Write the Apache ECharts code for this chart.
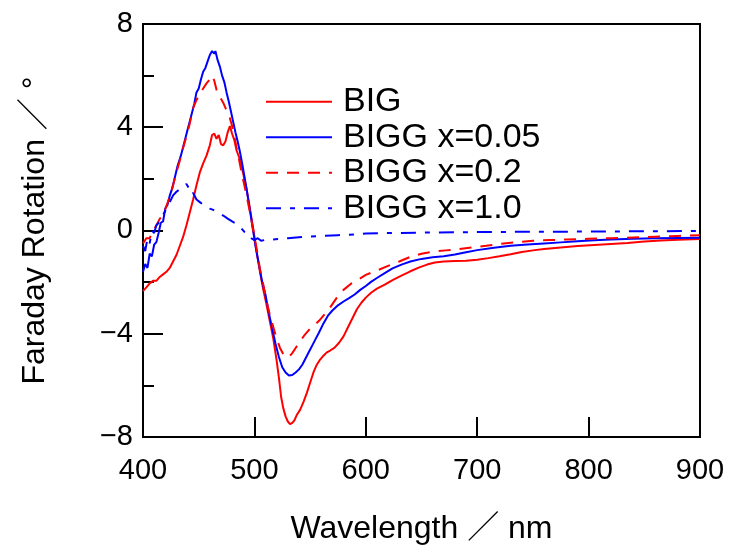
<!DOCTYPE html>
<html>
<head>
<meta charset="utf-8">
<script src="https://cdn.jsdelivr.net/npm/echarts@6/dist/echarts.min.js"></script>
<style>html,body{margin:0;padding:0;background:#fff}#c{width:730px;height:550px}</style>
</head>
<body>
<div id="c"></div>
<script>
// Wavelength (nm) and Faraday rotation (deg)
var wlBIG = [400,403,406,409,412,415,418,421,424,427,430,433,436,439,442,445,448,451,454,457,460,462,464,466,468,470,472,474,476,478,480,482,484,487,490,493,496,499,502,505,508,511,514,517,520,522,524,526,528,530,532,534,536,538,541,544,547,550,553,556,559,562,565,568,572,576,580,584,588,592,596,600,605,610,617,624,632,640,648,655,662,670,680,690,700,710,720,730,740,750,760,775,790,805,820,835,850,865,880,900];
var frBIG = [-2.35,-2.2,-2.05,-1.95,-1.95,-1.8,-1.7,-1.6,-1.45,-1.2,-0.95,-0.6,-0.25,0.2,0.7,1.2,1.75,2.25,2.6,2.9,3.3,3.7,3.75,3.55,3.7,3.35,3.3,3.45,3.8,4.05,3.75,3.5,3.1,2.75,2.2,1.6,0.85,0.05,-0.85,-1.6,-2.3,-2.9,-3.55,-4.2,-5.05,-5.7,-6.45,-6.9,-7.2,-7.4,-7.5,-7.45,-7.35,-7.15,-6.95,-6.65,-6.3,-5.9,-5.5,-5.2,-5.0,-4.85,-4.72,-4.65,-4.54,-4.35,-4.1,-3.75,-3.4,-3.05,-2.8,-2.6,-2.4,-2.25,-2.1,-1.92,-1.75,-1.58,-1.43,-1.32,-1.24,-1.2,-1.18,-1.17,-1.13,-1.07,-1.0,-0.92,-0.83,-0.77,-0.72,-0.66,-0.6,-0.56,-0.52,-0.48,-0.43,-0.39,-0.36,-0.33];

var wlX005 = [400,402,404,406,408,410,412,414,416,418,420,422,424,426,428,431,434,437,440,443,446,448,450,452,454,456,458,460,462,464,465,467,469,471,473,475,477,479,481,483,485,487,489,491,493,495,497,499,501,504,507,510,513,516,519,522,525,528,531,534,537,540,543,546,549,552,555,558,562,566,570,575,580,585,590,595,600,605,610,617,624,632,640,650,660,670,680,690,700,715,730,745,760,775,790,805,820,840,860,880,900];
var frX005 = [-1.6,-1.3,-1.45,-0.9,-1.0,-0.55,-0.45,-0.1,0.3,0.35,0.85,1.0,1.35,1.6,1.95,2.5,2.9,3.4,3.9,4.4,4.9,5.35,5.5,5.85,6.15,6.3,6.55,6.8,6.95,6.85,6.95,6.6,6.35,6.0,5.75,5.35,5.0,4.6,4.2,3.8,3.45,3.05,2.6,2.1,1.6,1.05,0.5,-0.05,-0.6,-1.3,-2.0,-2.5,-3.2,-3.8,-4.4,-4.9,-5.3,-5.5,-5.62,-5.6,-5.5,-5.38,-5.2,-4.95,-4.7,-4.45,-4.2,-3.95,-3.6,-3.3,-3.1,-2.9,-2.75,-2.62,-2.48,-2.3,-2.15,-1.98,-1.84,-1.65,-1.47,-1.32,-1.2,-1.1,-1.04,-1.0,-0.93,-0.84,-0.76,-0.67,-0.59,-0.54,-0.5,-0.46,-0.42,-0.38,-0.35,-0.32,-0.3,-0.29,-0.28];

var wlX02 = [400,403,406,409,412,415,418,421,424,427,430,433,436,439,442,445,448,451,454,457,460,462,464,466,468,470,472,474,476,478,480,482,484,486,488,490,493,496,499,502,505,508,511,514,517,520,523,526,529,531,534,537,541,545,549,553,558,563,568,574,580,587,594,600,610,620,630,640,650,660,672,684,696,708,720,735,750,765,780,800,820,840,860,880,900];
var frX02 = [-0.5,-0.3,-0.3,0.0,0.2,0.45,0.6,0.95,1.3,1.75,2.25,2.7,3.2,3.65,4.15,4.75,5.05,5.3,5.5,5.7,5.85,6.0,5.8,5.45,5.25,5.1,4.95,4.75,4.55,4.35,4.05,3.65,3.2,2.8,2.35,1.95,1.35,0.7,0.0,-0.7,-1.5,-2.1,-2.75,-3.3,-3.75,-4.2,-4.55,-4.8,-4.92,-4.9,-4.75,-4.55,-4.3,-4.05,-3.85,-3.7,-3.5,-3.25,-2.98,-2.6,-2.3,-2.05,-1.88,-1.72,-1.55,-1.37,-1.2,-1.02,-0.9,-0.82,-0.77,-0.72,-0.65,-0.59,-0.52,-0.45,-0.4,-0.37,-0.35,-0.32,-0.3,-0.27,-0.24,-0.21,-0.18];

var wlX10 = [400,402,404,406,408,410,412,415,418,421,424,427,430,433,436,439,441,443,445,448,451,454,457,460,463,466,469,472,476,480,484,488,491,494,497,500,503,506,510,515,522,530,540,550,560,575,590,600,620,650,700,750,800,850,900];
var frX10 = [-0.6,-0.8,-0.3,-0.5,0.0,-0.1,0.2,0.35,0.6,0.85,1.1,1.36,1.5,1.6,1.7,1.8,1.65,1.4,1.45,1.2,1.1,1.0,0.95,0.85,0.8,0.72,0.65,0.58,0.46,0.35,0.25,0.1,-0.05,-0.1,-0.3,-0.37,-0.3,-0.4,-0.36,-0.35,-0.33,-0.3,-0.26,-0.23,-0.21,-0.18,-0.15,-0.12,-0.1,-0.08,-0.06,-0.05,-0.04,-0.03,-0.02];

var seriesNames = ['BIG', 'BIGG x=0.05', 'BIGG x=0.2', 'BIGG x=1.0'];
var xTicks = [400, 500, 600, 700, 800, 900];
var yTicks = [-8, -4, 0, 4, 8];

function pairs(xs, ys) { return xs.map(function (x, i) { return [x, ys[i]]; }); }

var font = 'Liberation Sans, Arial, "Noto Sans CJK JP", sans-serif';
var chart = echarts.init(document.getElementById('c'), null, { renderer: 'canvas' });

function mkSeries(name, xs, ys, color, type) {
  return {
    name: name, type: 'line', data: pairs(xs, ys),
    symbol: 'none', showSymbol: false, smooth: false, animation: false,
    lineStyle: { color: color, width: 2, type: type },
    itemStyle: { color: color },
    z: 3
  };
}

chart.setOption({
  animation: false,
  backgroundColor: '#fff',
  grid: { left: 143, right: 30, top: 24, bottom: 110, show: true, borderColor: '#000', borderWidth: 2, backgroundColor: 'transparent' },
  legend: {
    orient: 'vertical', left: 260, top: 79,
    itemWidth: 66, itemHeight: 14, itemGap: 0,
    data: seriesNames,
    itemStyle: { opacity: 0 },
    textStyle: { fontFamily: font, fontSize: 34, color: '#000', lineHeight: 35.5, padding: [0, 0, 0, 6] }
  },
  xAxis: {
    type: 'value', min: xTicks[0], max: xTicks[xTicks.length - 1], interval: 100,
    name: 'Wavelength \uff0f nm', nameLocation: 'middle', nameGap: 76,
    nameTextStyle: { fontFamily: font, fontSize: 32, color: '#000' },
    axisLine: { show: true, onZero: false, lineStyle: { color: '#000', width: 2 } },
    axisTick: { show: true, inside: true, length: 20, lineStyle: { color: '#000', width: 2 } },
    axisLabel: { fontFamily: font, fontSize: 29, color: '#000', margin: 20 },
    splitLine: { show: false }
  },
  yAxis: {
    type: 'value', min: yTicks[0], max: yTicks[yTicks.length - 1], interval: 4,
    name: 'Faraday Rotation \uff0f \u00b0', nameLocation: 'middle', nameGap: 92, nameRotate: 90,
    nameTextStyle: { fontFamily: font, fontSize: 32, color: '#000' },
    axisLine: { show: true, onZero: false, lineStyle: { color: '#000', width: 2 } },
    axisTick: { show: true, inside: true, length: 20, lineStyle: { color: '#000', width: 2 } },
    minorTick: { show: true, splitNumber: 2, length: 11, lineStyle: { color: '#000', width: 2 } },
    axisLabel: { fontFamily: font, fontSize: 29, color: '#000', margin: 10, padding: [6, 0, 0, 0],
      formatter: function (v) { return v < 0 ? '\u2212' + Math.abs(v) : String(v); } },
    splitLine: { show: false }, minorSplitLine: { show: false }
  },
  series: [
    mkSeries(seriesNames[0], wlBIG, frBIG, '#ff0000', 'solid'),
    mkSeries(seriesNames[1], wlX005, frX005, '#0000ff', 'solid'),
    mkSeries(seriesNames[2], wlX02, frX02, '#ff0000', [12, 9]),
    mkSeries(seriesNames[3], wlX10, frX10, '#0000ff', [15, 9, 5, 9])
  ]
});
</script>
</body>
</html>
